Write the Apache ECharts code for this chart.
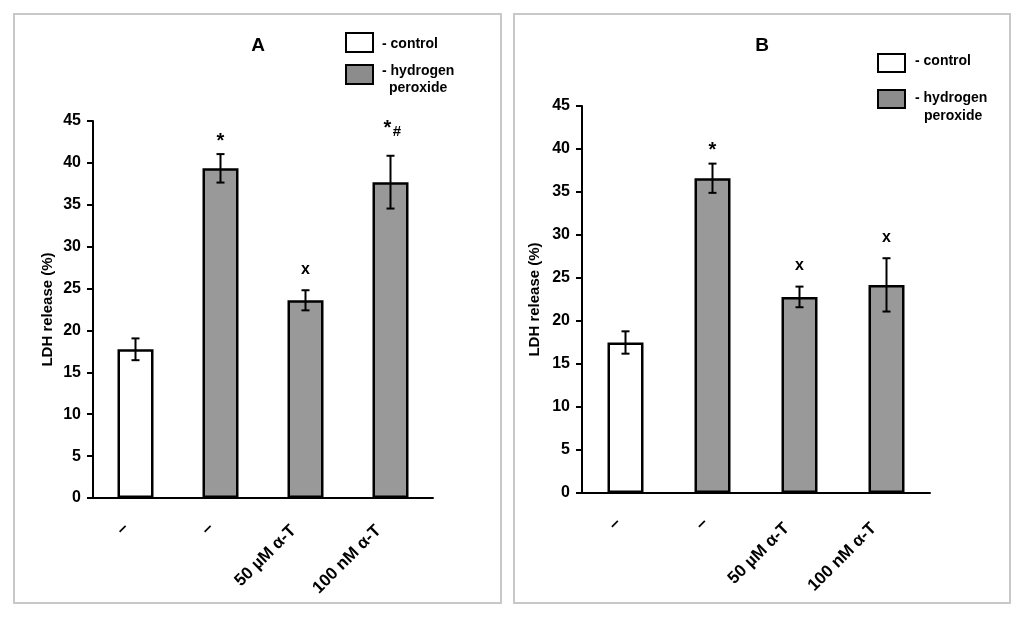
<!DOCTYPE html>
<html>
<head>
<meta charset="utf-8">
<script src="https://cdn.jsdelivr.net/npm/echarts@6/dist/echarts.min.js"></script>
<style>
html,body{margin:0;padding:0;background:#fff;}
#chart{width:1024px;height:617px;}
</style>
</head>
<body>
<div id="chart"></div>
<script>
// ---- data ----
const categories = ['–', '–', '50 µM α-T', '100 nM α-T'];
const groupOf = ['control', 'peroxide', 'peroxide', 'peroxide'];
const meanA = [17.75, 39.35, 23.6, 37.7];
const errA = [1.3, 1.7, 1.2, 3.15];
const marksA = ['', '*', 'x', '*#'];
const meanB = [17.5, 36.6, 22.8, 24.2];
const errB = [1.3, 1.7, 1.2, 3.1];
const marksB = ['', '*', 'x', 'x'];
const panelTitles = ['A', 'B'];
const legendLabels = ['- control', '- hydrogen', 'peroxide'];
const yName = 'LDH release (%)';
const yMin = 0, yMax = 45, yStep = 5;

// ---- styles ----
const FONT = "'Liberation Sans', Arial, sans-serif";
const fillOf = { control: '#ffffff', peroxide: '#999999' };

const chart = echarts.init(document.getElementById('chart'));

function barData(means) {
  return means.map((v, i) => ({ value: v, itemStyle: { color: fillOf[groupOf[i]] } }));
}
function errData(means, errs) {
  return means.map((v, i) => [i, v - errs[i], v + errs[i]]);
}
function makeRender(marks) {
  return function (params, api) {
    const i = api.value(0);
    const lo = api.coord([i, api.value(1)]);
    const hi = api.coord([i, api.value(2)]);
    const x = hi[0];
    const cw = 4;
    const ls = { stroke: '#000', lineWidth: 2 };
    const children = [
      { type: 'line', shape: { x1: x, y1: lo[1], x2: x, y2: hi[1] }, style: ls },
      { type: 'line', shape: { x1: x - cw, y1: hi[1], x2: x + cw, y2: hi[1] }, style: ls },
      { type: 'line', shape: { x1: x - cw, y1: lo[1], x2: x + cw, y2: lo[1] }, style: ls }
    ];
    const m = marks[params.dataIndex];
    const ts = (t, dx, dy, fs) => ({
      type: 'text', x: x + dx, y: hi[1] + dy,
      style: { text: t, fill: '#000', font: 'bold ' + fs + 'px ' + FONT, align: 'center', verticalAlign: 'middle' }
    });
    if (m === '*') children.push(ts('*', 0, -13, 20));
    else if (m === 'x') children.push(ts('x', 0, -21, 16));
    else if (m === '*#') { children.push(ts('*', -3, -27, 20)); children.push(ts('#', 6.5, -24, 15)); }
    return { type: 'group', children };
  };
}

function yAxisCfg(gridIndex, nameGap) {
  return {
    type: 'value', gridIndex, min: yMin, max: yMax, interval: yStep,
    name: yName, nameLocation: 'middle', nameGap,
    nameTextStyle: { fontFamily: FONT, fontWeight: 'bold', fontSize: 15, color: '#000' },
    axisLine: { show: true, lineStyle: { color: '#000', width: 2 } },
    axisTick: { show: true, length: 6, lineStyle: { color: '#000', width: 2 } },
    axisLabel: { color: '#000', fontFamily: FONT, fontWeight: 'bold', fontSize: 16, margin: 12 },
    splitLine: { show: false }
  };
}
// dashPad: padding used for the short "–" labels, textPad for the longer ones
function xAxisCfg(gridIndex, margin, textPad, dashPad) {
  return {
    type: 'category', gridIndex,
    data: categories.map(c => c === '–'
      ? { value: c, textStyle: { padding: dashPad } }
      : { value: c, textStyle: { padding: textPad } }),
    axisLine: { show: true, lineStyle: { color: '#000', width: 2 } },
    axisTick: { show: false },
    axisLabel: {
      rotate: 45, interval: 0, margin,
      color: '#000', fontFamily: FONT, fontWeight: 'bold', fontSize: 17
    }
  };
}

const graphic = [
  { type: 'rect', shape: { x: 14, y: 14, width: 487, height: 589 }, style: { fill: 'none', stroke: '#c8c8c8', lineWidth: 2 } },
  { type: 'rect', shape: { x: 514, y: 14, width: 496, height: 589 }, style: { fill: 'none', stroke: '#c8c8c8', lineWidth: 2 } },
  { type: 'text', x: 258, y: 46, style: { text: panelTitles[0], font: 'bold 19px ' + FONT, fill: '#000', align: 'center', verticalAlign: 'middle' } },
  { type: 'text', x: 762, y: 46, style: { text: panelTitles[1], font: 'bold 19px ' + FONT, fill: '#000', align: 'center', verticalAlign: 'middle' } },
  // legend A
  { type: 'rect', shape: { x: 346, y: 33, width: 27, height: 19 }, style: { fill: fillOf.control, stroke: '#000', lineWidth: 2 } },
  { type: 'text', x: 382, y: 44, style: { text: legendLabels[0], font: 'bold 14px ' + FONT, fill: '#000', verticalAlign: 'middle' } },
  { type: 'rect', shape: { x: 346, y: 65, width: 27, height: 19 }, style: { fill: '#8c8c8c', stroke: '#000', lineWidth: 2 } },
  { type: 'text', x: 382, y: 71, style: { text: legendLabels[1], font: 'bold 14px ' + FONT, fill: '#000', verticalAlign: 'middle' } },
  { type: 'text', x: 389, y: 88, style: { text: legendLabels[2], font: 'bold 14px ' + FONT, fill: '#000', verticalAlign: 'middle' } },
  // legend B
  { type: 'rect', shape: { x: 878, y: 54, width: 27, height: 18 }, style: { fill: fillOf.control, stroke: '#000', lineWidth: 2 } },
  { type: 'text', x: 915, y: 61, style: { text: legendLabels[0], font: 'bold 14px ' + FONT, fill: '#000', verticalAlign: 'middle' } },
  { type: 'rect', shape: { x: 878, y: 90, width: 27, height: 18 }, style: { fill: '#8c8c8c', stroke: '#000', lineWidth: 2 } },
  { type: 'text', x: 915, y: 98, style: { text: legendLabels[1], font: 'bold 14px ' + FONT, fill: '#000', verticalAlign: 'middle' } },
  { type: 'text', x: 924, y: 116, style: { text: legendLabels[2], font: 'bold 14px ' + FONT, fill: '#000', verticalAlign: 'middle' } }
];

const option = {
  backgroundColor: '#fff',
  animation: false,
  textStyle: { fontFamily: FONT },
  grid: [
    { left: 93, top: 121, width: 340, height: 377 },
    { left: 582, top: 106, width: 348, height: 387 }
  ],
  xAxis: [
    xAxisCfg(0, 18, [0, 17, 0, 0], [13, 13.5, 0, 0]),
    xAxisCfg(1, 20, [0, 18, 0, 0], [10.6, 10.6, 0, 0])
  ],
  yAxis: [yAxisCfg(0, 38), yAxisCfg(1, 40)],
  graphic,
  series: [
    { type: 'bar', name: 'A', xAxisIndex: 0, yAxisIndex: 0, barWidth: 36, data: barData(meanA),
      itemStyle: { borderColor: '#000', borderWidth: 2.5 } },
    { type: 'custom', name: 'A error', xAxisIndex: 0, yAxisIndex: 0, clip: false, z: 5,
      renderItem: makeRender(marksA), encode: { x: 0, y: [1, 2] }, data: errData(meanA, errA) },
    { type: 'bar', name: 'B', xAxisIndex: 1, yAxisIndex: 1, barWidth: 36, data: barData(meanB),
      itemStyle: { borderColor: '#000', borderWidth: 2.5 } },
    { type: 'custom', name: 'B error', xAxisIndex: 1, yAxisIndex: 1, clip: false, z: 5,
      renderItem: makeRender(marksB), encode: { x: 0, y: [1, 2] }, data: errData(meanB, errB) }
  ]
};
chart.setOption(option);
</script>
</body>
</html>
